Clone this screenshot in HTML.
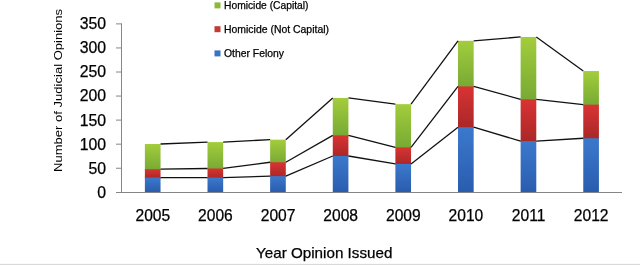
<!DOCTYPE html><html><head><meta charset="utf-8"><style>html,body{margin:0;padding:0;background:#fff;width:640px;height:265px;overflow:hidden}svg{display:block;will-change:transform}text{font-family:"Liberation Sans",sans-serif;fill:#000;stroke:#000;stroke-width:0.25px}</style></head><body>
<svg width="640" height="265" viewBox="0 0 640 265">
<defs>
<linearGradient id="gB" x1="0" y1="0" x2="0" y2="1"><stop offset="0" stop-color="#3b79cd"/><stop offset="1" stop-color="#2a5cae"/></linearGradient>
<linearGradient id="gR" x1="0" y1="0" x2="0" y2="1"><stop offset="0" stop-color="#d93333"/><stop offset="1" stop-color="#a92727"/></linearGradient>
<linearGradient id="gG" x1="0" y1="0" x2="0" y2="1"><stop offset="0" stop-color="#a3cd3c"/><stop offset="1" stop-color="#77a934"/></linearGradient>
</defs>
<rect x="0" y="263" width="640" height="1" fill="#fafafa"/><rect x="0" y="264" width="640" height="1" fill="#d9d9d9"/>
<rect x="144.88" y="144.00" width="15.66" height="26.20" fill="url(#gG)"/>
<rect x="144.88" y="169.20" width="15.66" height="9.40" fill="url(#gR)"/>
<rect x="144.88" y="177.60" width="15.66" height="14.40" fill="url(#gB)"/>
<rect x="207.51" y="142.08" width="15.66" height="27.40" fill="url(#gG)"/>
<rect x="207.51" y="168.48" width="15.66" height="10.12" fill="url(#gR)"/>
<rect x="207.51" y="177.60" width="15.66" height="14.40" fill="url(#gB)"/>
<rect x="270.13" y="139.68" width="15.66" height="23.56" fill="url(#gG)"/>
<rect x="270.13" y="162.24" width="15.66" height="14.92" fill="url(#gR)"/>
<rect x="270.13" y="176.16" width="15.66" height="15.84" fill="url(#gB)"/>
<rect x="332.76" y="97.92" width="15.66" height="38.44" fill="url(#gG)"/>
<rect x="332.76" y="135.36" width="15.66" height="21.64" fill="url(#gR)"/>
<rect x="332.76" y="156.00" width="15.66" height="36.00" fill="url(#gB)"/>
<rect x="395.38" y="104.16" width="15.66" height="44.20" fill="url(#gG)"/>
<rect x="395.38" y="147.36" width="15.66" height="17.56" fill="url(#gR)"/>
<rect x="395.38" y="163.92" width="15.66" height="28.08" fill="url(#gB)"/>
<rect x="458.01" y="40.80" width="15.66" height="46.60" fill="url(#gG)"/>
<rect x="458.01" y="86.40" width="15.66" height="41.80" fill="url(#gR)"/>
<rect x="458.01" y="127.20" width="15.66" height="64.80" fill="url(#gB)"/>
<rect x="520.63" y="36.96" width="15.66" height="63.40" fill="url(#gG)"/>
<rect x="520.63" y="99.36" width="15.66" height="42.76" fill="url(#gR)"/>
<rect x="520.63" y="141.12" width="15.66" height="50.88" fill="url(#gB)"/>
<rect x="583.26" y="71.04" width="15.66" height="34.60" fill="url(#gG)"/>
<rect x="583.26" y="104.64" width="15.66" height="34.60" fill="url(#gR)"/>
<rect x="583.26" y="138.24" width="15.66" height="53.76" fill="url(#gB)"/>
<line x1="160.54" y1="177.60" x2="207.51" y2="177.60" stroke="#111" stroke-width="1.3"/>
<line x1="223.17" y1="177.60" x2="270.13" y2="176.16" stroke="#111" stroke-width="1.3"/>
<line x1="285.79" y1="176.16" x2="332.76" y2="156.00" stroke="#111" stroke-width="1.3"/>
<line x1="348.42" y1="156.00" x2="395.38" y2="163.92" stroke="#111" stroke-width="1.3"/>
<line x1="411.04" y1="163.92" x2="458.01" y2="127.20" stroke="#111" stroke-width="1.3"/>
<line x1="473.67" y1="127.20" x2="520.63" y2="141.12" stroke="#111" stroke-width="1.3"/>
<line x1="536.29" y1="141.12" x2="583.26" y2="138.24" stroke="#111" stroke-width="1.3"/>
<line x1="160.54" y1="169.20" x2="207.51" y2="168.48" stroke="#111" stroke-width="1.3"/>
<line x1="223.17" y1="168.48" x2="270.13" y2="162.24" stroke="#111" stroke-width="1.3"/>
<line x1="285.79" y1="162.24" x2="332.76" y2="135.36" stroke="#111" stroke-width="1.3"/>
<line x1="348.42" y1="135.36" x2="395.38" y2="147.36" stroke="#111" stroke-width="1.3"/>
<line x1="411.04" y1="147.36" x2="458.01" y2="86.40" stroke="#111" stroke-width="1.3"/>
<line x1="473.67" y1="86.40" x2="520.63" y2="99.36" stroke="#111" stroke-width="1.3"/>
<line x1="536.29" y1="99.36" x2="583.26" y2="104.64" stroke="#111" stroke-width="1.3"/>
<line x1="160.54" y1="144.00" x2="207.51" y2="142.08" stroke="#111" stroke-width="1.3"/>
<line x1="223.17" y1="142.08" x2="270.13" y2="139.68" stroke="#111" stroke-width="1.3"/>
<line x1="285.79" y1="139.68" x2="332.76" y2="97.92" stroke="#111" stroke-width="1.3"/>
<line x1="348.42" y1="97.92" x2="395.38" y2="104.16" stroke="#111" stroke-width="1.3"/>
<line x1="411.04" y1="104.16" x2="458.01" y2="40.80" stroke="#111" stroke-width="1.3"/>
<line x1="473.67" y1="40.80" x2="520.63" y2="36.96" stroke="#111" stroke-width="1.3"/>
<line x1="536.29" y1="36.96" x2="583.26" y2="71.04" stroke="#111" stroke-width="1.3"/>
<line x1="121.5" y1="23.4" x2="121.5" y2="192.5" stroke="#868686" stroke-width="1"/>
<line x1="116" y1="192.5" x2="622" y2="192.5" stroke="#868686" stroke-width="1"/>
<text x="106" y="197.70" font-size="15.8" text-anchor="end">0</text>
<line x1="116" y1="168.24" x2="121.5" y2="168.24" stroke="#868686" stroke-width="1"/>
<text x="106" y="173.64" font-size="15.8" text-anchor="end">50</text>
<line x1="116" y1="144.18" x2="121.5" y2="144.18" stroke="#868686" stroke-width="1"/>
<text x="106" y="149.58" font-size="15.8" text-anchor="end">100</text>
<line x1="116" y1="120.12" x2="121.5" y2="120.12" stroke="#868686" stroke-width="1"/>
<text x="106" y="125.52" font-size="15.8" text-anchor="end">150</text>
<line x1="116" y1="96.06" x2="121.5" y2="96.06" stroke="#868686" stroke-width="1"/>
<text x="106" y="101.46" font-size="15.8" text-anchor="end">200</text>
<line x1="116" y1="72.00" x2="121.5" y2="72.00" stroke="#868686" stroke-width="1"/>
<text x="106" y="77.40" font-size="15.8" text-anchor="end">250</text>
<line x1="116" y1="47.94" x2="121.5" y2="47.94" stroke="#868686" stroke-width="1"/>
<text x="106" y="53.34" font-size="15.8" text-anchor="end">300</text>
<line x1="116" y1="23.88" x2="121.5" y2="23.88" stroke="#868686" stroke-width="1"/>
<text x="106" y="29.28" font-size="15.8" text-anchor="end">350</text>
<text x="152.81" y="221.2" font-size="15.6" text-anchor="middle">2005</text>
<text x="215.44" y="221.2" font-size="15.6" text-anchor="middle">2006</text>
<text x="278.06" y="221.2" font-size="15.6" text-anchor="middle">2007</text>
<text x="340.69" y="221.2" font-size="15.6" text-anchor="middle">2008</text>
<text x="403.31" y="221.2" font-size="15.6" text-anchor="middle">2009</text>
<text x="465.94" y="221.2" font-size="15.6" text-anchor="middle">2010</text>
<text x="528.56" y="221.2" font-size="15.6" text-anchor="middle">2011</text>
<text x="591.19" y="221.2" font-size="15.6" text-anchor="middle">2012</text>
<text x="256" y="258" font-size="15" textLength="136.4" lengthAdjust="spacingAndGlyphs">Year Opinion Issued</text>
<text transform="translate(61.9,171.9) rotate(-90)" x="0" y="0" font-size="11.5" textLength="163" style="stroke-width:0" lengthAdjust="spacingAndGlyphs">Number of Judicial Opinions</text>
<rect x="214.5" y="2.4" width="6" height="6" fill="#8db83a"/>
<text x="224" y="8.5" font-size="10.1" textLength="84.5" lengthAdjust="spacingAndGlyphs">Homicide (Capital)</text>
<rect x="214.5" y="26.2" width="6" height="6" fill="#c23a34"/>
<text x="224" y="32.6" font-size="10.1" textLength="105" lengthAdjust="spacingAndGlyphs">Homicide (Not Capital)</text>
<rect x="214.5" y="50.4" width="6" height="6" fill="#3a73c0"/>
<text x="224" y="56.5" font-size="10.1" textLength="60" lengthAdjust="spacingAndGlyphs">Other Felony</text>
</svg></body></html>
